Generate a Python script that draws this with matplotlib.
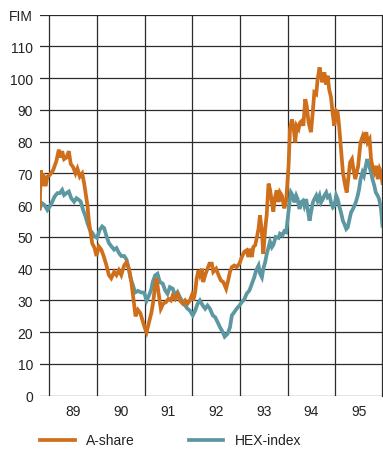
import matplotlib
matplotlib.use("Agg")
import matplotlib.pyplot as plt
from matplotlib.lines import Line2D

plt.rcParams['font.family'] = ['Liberation Sans', 'DejaVu Sans']

# Share price indices, FIM (decimal year, value)
a_share_t = [1988.80, 1988.82, 1988.85, 1988.87, 1988.92, 1988.96, 1989.01, 1989.08, 1989.15, 1989.20,
             1989.23, 1989.27, 1989.31, 1989.36, 1989.41, 1989.45, 1989.50, 1989.55, 1989.59, 1989.64,
             1989.69, 1989.73, 1989.76, 1989.80, 1989.83, 1989.87, 1989.90, 1989.95, 1989.99, 1990.04,
             1990.09, 1990.14, 1990.20, 1990.25, 1990.30, 1990.36, 1990.41, 1990.46, 1990.51, 1990.57,
             1990.62, 1990.67, 1990.72, 1990.77, 1990.81, 1990.86, 1990.91, 1990.95, 1991.00, 1991.04,
             1991.09, 1991.14, 1991.18, 1991.22, 1991.25, 1991.29, 1991.34, 1991.39, 1991.45, 1991.50,
             1991.55, 1991.59, 1991.64, 1991.69, 1991.74, 1991.80, 1991.85, 1991.90, 1991.95, 1991.99,
             1992.02, 1992.06, 1992.09, 1992.13, 1992.16, 1992.20, 1992.23, 1992.27, 1992.32, 1992.36,
             1992.41, 1992.44, 1992.50, 1992.55, 1992.60, 1992.65, 1992.71, 1992.76, 1992.79, 1992.83,
             1992.88, 1992.93, 1992.99, 1993.04, 1993.09, 1993.14, 1993.18, 1993.21, 1993.25, 1993.28,
             1993.32, 1993.35, 1993.39, 1993.42, 1993.46, 1993.49, 1993.53, 1993.56, 1993.60, 1993.63,
             1993.67, 1993.70, 1993.73, 1993.77, 1993.81, 1993.84, 1993.88, 1993.93, 1993.97, 1994.02,
             1994.05, 1994.09, 1994.12, 1994.16, 1994.19, 1994.23, 1994.26, 1994.30, 1994.33, 1994.37,
             1994.40, 1994.44, 1994.49, 1994.52, 1994.56, 1994.60, 1994.63, 1994.67, 1994.70, 1994.73,
             1994.77, 1994.81, 1994.84, 1994.87, 1994.91, 1994.95, 1994.98, 1995.02, 1995.05, 1995.08,
             1995.12, 1995.16, 1995.21, 1995.24, 1995.27, 1995.31, 1995.35, 1995.38, 1995.42, 1995.45,
             1995.48, 1995.53, 1995.58, 1995.61, 1995.65, 1995.68, 1995.72, 1995.75, 1995.79, 1995.82,
             1995.86, 1995.89, 1995.93, 1995.96, 1995.99]
a_share_v = [59, 71, 66, 70, 66, 69, 69.5, 71, 74, 77.5,
             75, 77, 74.5, 75, 77, 73, 72, 70, 71.5, 69,
             70, 67, 64, 60, 55, 51, 48, 46.5, 44, 47,
             46, 44, 41, 38, 37, 39, 38, 39.5, 38, 41,
             42, 40, 36, 30, 25, 27, 26, 24, 21.5, 20,
             23, 26, 29.5, 34.7, 37, 32.6, 27.4, 29, 29.5, 30.5,
             30, 31.6, 30.5, 32, 30, 29, 30, 29, 30, 31.6,
             30, 32.6, 36.8, 39.5, 38, 40, 35.8, 38, 40, 41.6,
             41.6, 39, 40, 38, 36.3, 35.8, 33.7, 36.8, 39, 40.5,
             41, 40.5, 41.6, 43.7, 45.3, 45.8, 43.7, 46.3, 43.7, 46.8,
             47.4, 49.5, 52.6, 56.8, 51.6, 44.7, 52.6, 56.8, 66.8, 65,
             61, 58, 62, 64.7, 61, 64, 63, 59, 61.5, 72.4,
             84, 87, 85, 79.8, 85, 84, 86, 86.6, 85, 93.4,
             91.3, 86, 83, 88, 95.5, 95, 99.7, 103.4, 100.8, 98.7,
             101.8, 98, 100.8, 96.6, 94, 88.2, 85, 89.7, 89.2, 85,
             77.7, 70.3, 66, 64, 68.2, 73.5, 74.5, 71.4, 68.2, 70.3,
             72.4, 79.8, 81.9, 80.8, 83, 79.8, 80.8, 74.5, 71.4, 70.3,
             72.4, 68.2, 71.4, 70.3, 67]

hex_t = [1988.80, 1988.85, 1988.90, 1988.96, 1989.01, 1989.06, 1989.11, 1989.17, 1989.22, 1989.27,
         1989.31, 1989.36, 1989.41, 1989.46, 1989.52, 1989.57, 1989.62, 1989.66, 1989.71, 1989.76,
         1989.80, 1989.85, 1989.90, 1989.95, 1990.00, 1990.06, 1990.11, 1990.15, 1990.20, 1990.25,
         1990.30, 1990.36, 1990.41, 1990.46, 1990.51, 1990.57, 1990.62, 1990.67, 1990.71, 1990.76,
         1990.80, 1990.86, 1990.93, 1990.99, 1991.04, 1991.09, 1991.14, 1991.17, 1991.22, 1991.27,
         1991.32, 1991.38, 1991.43, 1991.48, 1991.53, 1991.59, 1991.64, 1991.69, 1991.74, 1991.80,
         1991.85, 1991.90, 1991.95, 1992.01, 1992.06, 1992.11, 1992.16, 1992.22, 1992.27, 1992.32,
         1992.37, 1992.43, 1992.48, 1992.53, 1992.58, 1992.64, 1992.68, 1992.74, 1992.79, 1992.83,
         1992.88, 1992.93, 1992.99, 1993.04, 1993.09, 1993.14, 1993.20, 1993.25, 1993.30, 1993.34,
         1993.39, 1993.42, 1993.46, 1993.49, 1993.53, 1993.56, 1993.60, 1993.63, 1993.67, 1993.70,
         1993.75, 1993.81, 1993.84, 1993.89, 1993.93, 1993.97, 1994.00, 1994.04, 1994.07, 1994.11,
         1994.14, 1994.18, 1994.21, 1994.25, 1994.28, 1994.32, 1994.35, 1994.39, 1994.42, 1994.46,
         1994.49, 1994.53, 1994.56, 1994.60, 1994.63, 1994.67, 1994.70, 1994.74, 1994.77, 1994.81,
         1994.84, 1994.88, 1994.91, 1994.95, 1994.98, 1995.02, 1995.05, 1995.09, 1995.12, 1995.16,
         1995.19, 1995.23, 1995.26, 1995.30, 1995.33, 1995.37, 1995.40, 1995.43, 1995.47, 1995.50,
         1995.53, 1995.57, 1995.60, 1995.64, 1995.67, 1995.71, 1995.75, 1995.78, 1995.82, 1995.85,
         1995.89, 1995.92, 1995.96, 1995.99]
hex_v = [59, 60.6, 60, 58.5, 59.6, 61, 62.7, 63.8, 63.8, 64.8,
         63.2, 63.8, 64.3, 62.2, 61.1, 62.2, 61.7, 61.1, 58.5, 56.5,
         54.4, 52.3, 51.3, 50.2, 49.7, 52.3, 53.3, 52.8, 50.2, 48.1,
         47.1, 46, 46.5, 45, 44, 44, 42.9, 39.8, 36.7, 34.6,
         32.5, 33, 32.5, 32.5, 29.9, 31.5, 33.5, 35.8, 37.9, 38.4,
         35.8, 35.3, 33.2, 32.1, 34.2, 33.7, 31.6, 32.6, 31, 29.5,
         28.4, 27.4, 26.8, 25.3, 26.8, 28.9, 30, 28.4, 27.4, 28.4,
         27.4, 25.3, 24.7, 23.2, 21.6, 20, 18.6, 19.5, 21.5, 25.3,
         26.3, 27.4, 28.4, 29.5, 30.3, 32.1, 33.2, 35.3, 37.3, 39.5,
         41, 38.5, 37.3, 40, 42.1, 44.5, 46.8, 48.5, 46.8, 47.5,
         50, 49.7, 51, 50.5, 51.8, 51.5, 55.6, 60.9, 64, 63,
         60.9, 63, 61.9, 58.8, 60.9, 61.4, 59.8, 61.9, 58.8, 55.1,
         57.7, 60.9, 61.9, 63, 61.4, 63, 60.9, 61.9, 63, 64,
         62.5, 63, 60.9, 59.3, 59.8, 63, 61.9, 59.3, 57.7, 55.1,
         54.1, 52.5, 53, 55.6, 57.7, 58.8, 59.8, 60.9, 63, 65.1,
         68.2, 70.3, 69.3, 72.4, 74.5, 72.4, 70.3, 68.2, 66.1, 64,
         63, 61.9, 58.8, 53.5]

years = [1989, 1990, 1991, 1992, 1993, 1994, 1995]
year_labels = ['89', '90', '91', '92', '93', '94', '95']
y_ticks = list(range(0, 130, 10))
y_labels = [str(v) for v in y_ticks[:-1]] + ['FIM']

ORANGE = '#CF6F1C'
TEAL = '#5C97A2'
GRID = '#2b2b2b'
TEXT = '#222222'

W, H = 383, 452
fig = plt.figure(figsize=(W / 100, H / 100), dpi=100)
ax = fig.add_axes([40 / W, (H - 396.7) / H, (382 - 40) / W, (396.7 - 15.7) / H])

ax.set_xlim(1988.805, 1995.98)
ax.set_ylim(0, 120)

# grid: horizontal at every 10, vertical at year boundaries
for v in y_ticks:
    ax.axhline(v, color=GRID, lw=0.9, zorder=1)
for yr in years:
    ax.axvline(yr, color=GRID, lw=0.9, zorder=1)

ax.plot(hex_t, hex_v, color=TEAL, lw=2.7, solid_joinstyle='miter', zorder=3)
ax.plot(a_share_t, a_share_v, color=ORANGE, lw=2.7, solid_joinstyle='miter', zorder=4)

for side in ['left', 'top', 'bottom']:
    ax.spines[side].set_visible(False)
ax.spines['right'].set_color(GRID)
ax.spines['right'].set_linewidth(0.9)

ax.set_yticks(y_ticks)
ax.set_yticklabels(y_labels)
ax.tick_params(axis='y', length=0, pad=5, labelsize=10, labelcolor=TEXT)

ax.set_xticks([y + 0.5 for y in years])
ax.set_xticklabels(year_labels)
ax.tick_params(axis='x', length=0, pad=6, labelsize=10, labelcolor=TEXT)

handles = [Line2D([], [], color=ORANGE, lw=2.7), Line2D([], [], color=TEAL, lw=2.7)]
fig.legend(handles, ['A-share', 'HEX-index'], loc='center left',
           bbox_to_anchor=(40 / W, (H - 441.5) / H), ncol=2, frameon=False,
           fontsize=10, labelcolor=TEXT, handlelength=2.5, handletextpad=0.8,
           columnspacing=3.9, borderpad=0, borderaxespad=0)

fig.savefig('out.png', dpi=100)
